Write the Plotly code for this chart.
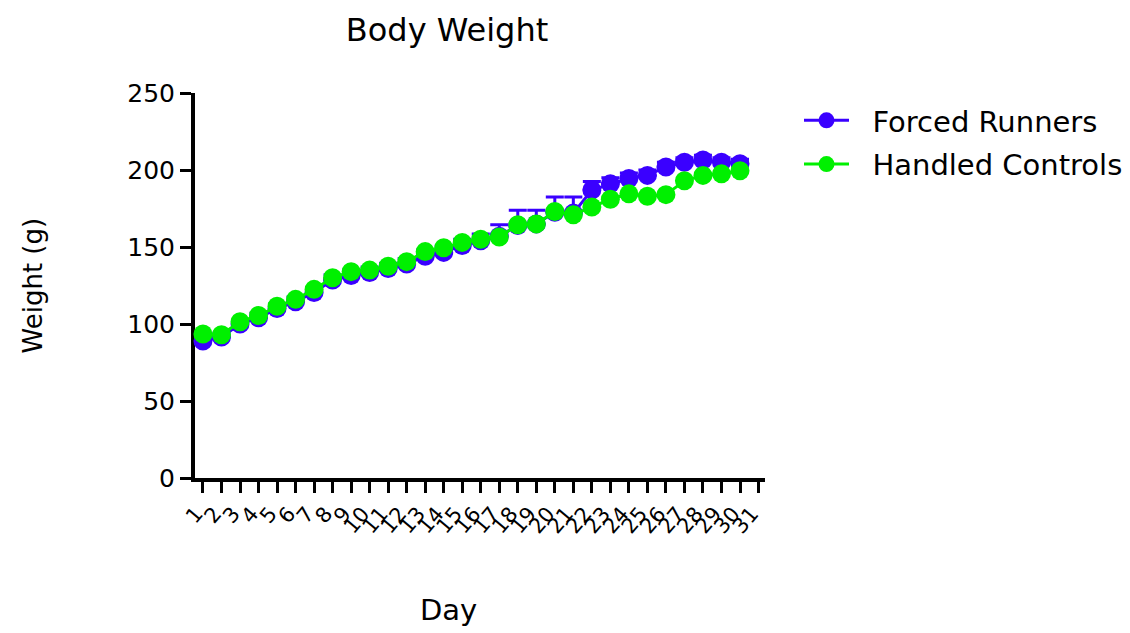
import plotly.graph_objects as go

# Days measured and axis tick labels
days = list(range(1, 31))
tick_days = list(range(1, 32))
tick_labels = [str(d) for d in tick_days]

# Mean body weight (g) and SEM per day (SEM shown above the mean only)
runners_mean = [89, 91.5, 100, 104, 110, 114.5, 120.5, 128.5, 131.5, 133.5,
                136, 139, 144, 146.5, 151, 154, 157, 164, 165, 172.5,
                172, 187, 191, 194.5, 196.5, 202, 205, 206.5, 205, 204]
runners_sem = [2.5, 2.5, 2.5, 3, 3, 3, 3, 3.5, 3.5, 3.5,
               3.5, 3.5, 4, 4, 4, 4.5, 7.5, 9.8, 8.8, 10,
               10.5, 5.5, 4, 3.5, 3.5, 3, 3, 3, 3, 3]
controls_mean = [93.5, 93, 101.5, 105.5, 111.5, 116, 122.5, 130, 134, 135,
                 137.5, 140.5, 147, 149.5, 153, 155, 156.5, 164.5, 165, 173,
                 171, 176, 181, 184.5, 183, 184, 193, 196.5, 197.5, 199.5]

y_ticks = [0, 50, 100, 150, 200, 250]

BLUE = "#3a00ff"
GREEN = "#00f000"
FONT = "DejaVu Sans, Liberation Sans, Arial, sans-serif"
GAP = "\u00a0\u00a0"  # small gap between legend symbol and its label

fig = go.Figure()

fig.add_trace(go.Scatter(
    x=days, y=runners_mean, name=GAP + "Forced Runners", legendgroup="runners",
    mode="lines+markers",
    line=dict(color=BLUE, width=3),
    marker=dict(color=BLUE, size=19),
    error_y=dict(type="data", symmetric=False, array=runners_sem,
                 arrayminus=[0] * len(runners_sem),
                 color=BLUE, thickness=3, width=9),
    cliponaxis=False,
))
fig.add_trace(go.Scatter(
    x=days, y=controls_mean, name=GAP + "Handled Controls", legendgroup="controls",
    mode="lines+markers",
    line=dict(color=GREEN, width=3),
    marker=dict(color=GREEN, size=19),
    cliponaxis=False,
))

PLOT_W = 1130 - 195 - 365
PLOT_H = 633 - 93 - 155

fig.update_layout(
    width=1130, height=633,
    margin=dict(l=195, r=365, t=93, b=155, autoexpand=False),
    paper_bgcolor="white", plot_bgcolor="white",
    font=dict(family=FONT, color="black"),
    showlegend=True,
    legend=dict(x=(799 - 195) / PLOT_W, y=1.0 + (93 - 95) / PLOT_H,
                xanchor="left", yanchor="top",
                font=dict(size=29, family=FONT), bgcolor="rgba(0,0,0,0)",
                itemwidth=45, traceorder="grouped", tracegroupgap=3),
    title=dict(text="Body Weight", x=447 / 1130, xanchor="center",
               y=1 - 30 / 633, yanchor="middle", yref="container",
               font=dict(size=32, family=FONT)),
    annotations=[
        dict(text="Weight (g)", xref="paper", yref="paper",
             x=-(195 - 32) / PLOT_W, y=0.5, xanchor="center", yanchor="middle",
             textangle=-90, showarrow=False, font=dict(size=26, family=FONT)),
        dict(text="Day", xref="paper", yref="paper",
             x=(448 - 195) / PLOT_W, y=-(610 - 478) / PLOT_H, xanchor="center",
             yanchor="middle", showarrow=False, font=dict(size=29, family=FONT)),
    ],
)

fig.update_xaxes(
    range=[0.57, 31.35], tickmode="array", tickvals=tick_days, ticktext=tick_labels,
    tickangle=-50, tickfont=dict(size=21, family=FONT), ticklabelshift=-7,
    showline=True, linecolor="black", linewidth=4,
    ticks="outside", ticklen=11, tickwidth=3, tickcolor="black",
    showgrid=False, zeroline=False, layer="below traces",
)
fig.update_yaxes(
    range=[0, 250], tickmode="array", tickvals=y_ticks,
    tickfont=dict(size=25, family=FONT),
    showline=True, linecolor="black", linewidth=4,
    ticks="outside", ticklen=11, tickwidth=3, tickcolor="black",
    showgrid=False, zeroline=False, layer="below traces",
)

fig.write_html("out.html")
